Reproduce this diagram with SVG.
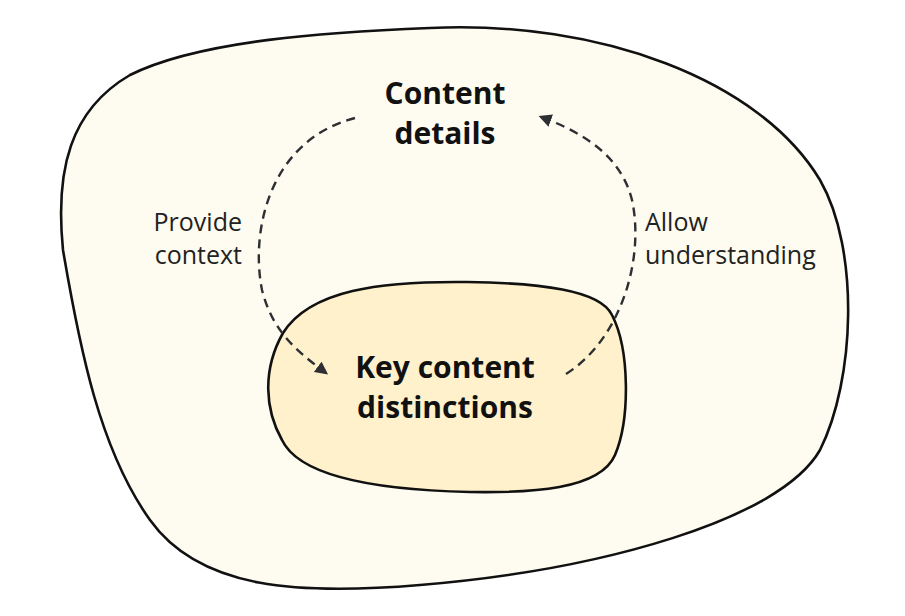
<svg xmlns="http://www.w3.org/2000/svg" width="905" height="616" viewBox="0 0 905 616">
<style>
.blob{stroke:#111;stroke-width:2.6}
.title{font-family:"Open Sans","Liberation Sans",sans-serif;font-weight:700;font-size:30px;fill:#111;text-anchor:middle}
.lbl{font-family:"Open Sans","Liberation Sans",sans-serif;font-size:25px;fill:#222}
.dash{fill:none;stroke:#2d2f33;stroke-width:2.4;stroke-dasharray:9 6}
</style>
<defs>
<marker id="ah" viewBox="0 0 10 10" refX="8" refY="5" markerWidth="13" markerHeight="13" markerUnits="userSpaceOnUse" orient="auto">
<path d="M0,0 L10,5 L0,10 Z" fill="#2d2f33"/>
</marker>
</defs>
<rect width="905" height="616" fill="#ffffff"/>
<g id="outer">
<path class="blob" fill="#fefcf0" d="M 430,28 C 600,20 760,80 820,180 C 860,250 855,380 820,450 C 780,520 600,570 420,585 C 300,595 200,590 150,520 C 100,450 80,350 63,250 C 55,170 70,110 130,75 C 200,40 330,32 430,28 Z"/>
</g>
<g id="inner">
<path class="blob" fill="#fff1cc" d="M 467,282 C 540,283 600,290 612,315 C 630,350 630,420 615,455 C 600,490 530,493 470,492 C 380,490 300,478 282,440 C 265,410 262,370 283,333 C 310,290 380,281 467,282 Z"/>
</g>
<g id="connectors">
<path class="dash" marker-end="url(#ah)" d="M 355,118 C 270,140 250,230 262,290 C 272,330 295,350 326,373"/>
<path class="dash" marker-end="url(#ah)" d="M 566,374 C 620,340 645,260 632,200 C 622,160 590,135 541,117"/>
</g>
<g id="content-details">
<text class="title" x="445" y="104">Content</text>
<text class="title" x="445" y="144">details</text>
</g>
<g id="key-content">
<text class="title" x="445" y="378">Key content</text>
<text class="title" x="445" y="418">distinctions</text>
</g>
<g id="label-left">
<text class="lbl" x="242" y="231" text-anchor="end">Provide</text>
<text class="lbl" x="242" y="264" text-anchor="end">context</text>
</g>
<g id="label-right">
<text class="lbl" x="645" y="231">Allow</text>
<text class="lbl" x="645" y="264">understanding</text>
</g>
</svg>
